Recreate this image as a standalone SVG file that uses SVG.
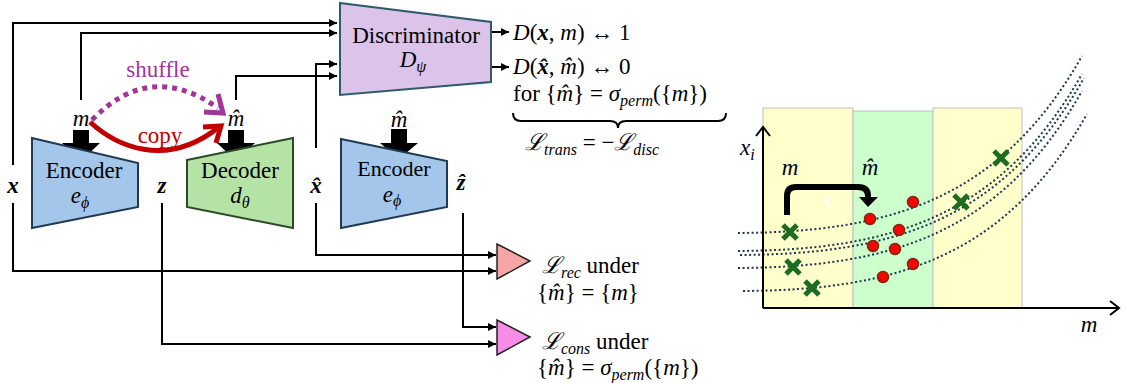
<svg xmlns="http://www.w3.org/2000/svg" xmlns:xlink="http://www.w3.org/1999/xlink" width="1126" height="383" viewBox="0 0 1126 383">
<style>
text{font-family:'Liberation Serif','Times New Roman',Tinos,'DejaVu Serif',serif;font-size:23px;fill:#000}
.i{font-style:italic}
.bi{font-style:italic;font-weight:bold}
.sub{font-size:16px;font-style:italic}
.wire{fill:none;stroke:#000;stroke-width:2}
.dot{fill:none;stroke:#1f3550;stroke-width:2;stroke-dasharray:2 2.5}
.xm{stroke:#1e6b22;stroke-width:5;fill:none}
.rd{fill:#ff0000;stroke:#7a2a10;stroke-width:1.5}
</style>
<defs>
<marker id="ah" viewBox="0 0 10 10" refX="10" refY="5" markerWidth="9" markerHeight="8" markerUnits="userSpaceOnUse" orient="auto"><path d="M0,0 L10,5 L0,10 z" fill="#000"/></marker>
<path id="crv" d="M0,0 C152,-1 262,-33 344,-177"/>
</defs>
<g id="connectors">
<polyline class="wire" points="13,165 13,23 337,23" marker-end="url(#ah)"/>
<polyline class="wire" points="81,100 81,33 337,33" marker-end="url(#ah)"/>
<polyline class="wire" points="316,148 316,64 337,64" marker-end="url(#ah)"/>
<polyline class="wire" points="236,100 236,76 337,76" marker-end="url(#ah)"/>
<polyline class="wire" points="13,203 13,271 496,271" marker-end="url(#ah)"/>
<polyline class="wire" points="316,203 316,255 496,255" marker-end="url(#ah)"/>
<polyline class="wire" points="162,203 162,344 496,344" marker-end="url(#ah)"/>
<polyline class="wire" points="463,213 463,327 496,327" marker-end="url(#ah)"/>
<line class="wire" x1="491" y1="32" x2="509" y2="32" marker-end="url(#ah)"/>
<line class="wire" x1="491" y1="67" x2="509" y2="67" marker-end="url(#ah)"/>
<path d="M92,120 Q150,60 218,108" fill="none" stroke="#a0359a" stroke-width="5" stroke-dasharray="5 5"/>
<polyline points="218,94 223,113 204,112" fill="none" stroke="#a0359a" stroke-width="5"/>
<path d="M90,122 C115,145 165,170 219,127" fill="none" stroke="#c00000" stroke-width="5"/>
<polyline points="203,127 221,126 216,143" fill="none" stroke="#c00000" stroke-width="5"/>
<polygon points="73,130 89,130 89,143 100,143 81,161 62,143 73,143" fill="#000"/>
<polygon points="228,130 244,130 244,143 255,143 236,161 217,143 228,143" fill="#000"/>
<polygon points="391,129 407,129 407,143 418,143 399,159 380,143 391,143" fill="#000"/>
</g>
<g font-family="'Liberation Serif','Times New Roman',serif">
<g id="encoder1">
<polygon points="32,138 138,163 138,207 32,228" fill="#a4c6ea" stroke="#203a50" stroke-width="2"/>
<text x="84" y="178" text-anchor="middle">Encoder</text>
<text x="80" y="203" text-anchor="middle"><tspan class="i">e</tspan><tspan class="sub" dy="5">ϕ</tspan></text>
</g>
<g id="decoder">
<polygon points="187,160 293,138 293,228 187,207" fill="#b4e3a5" stroke="#2b4a25" stroke-width="2"/>
<text x="240" y="178" text-anchor="middle">Decoder</text>
<text x="240" y="203" text-anchor="middle"><tspan class="i">d</tspan><tspan class="sub" dy="5">θ</tspan></text>
</g>
<g id="encoder2">
<polygon points="341,139 447,161 447,207 341,228" fill="#a4c6ea" stroke="#203a50" stroke-width="2"/>
<text x="394" y="176" text-anchor="middle" style="font-size:22px">Encoder</text>
<text x="392" y="202" text-anchor="middle"><tspan class="i">e</tspan><tspan class="sub" dy="4">ϕ</tspan></text>
</g>
<g id="discriminator">
<polygon points="340,3 491,22 491,82 340,95" fill="#dcc3ea" stroke="#2e5a6e" stroke-width="2"/>
<text x="416" y="43" text-anchor="middle">Discriminator</text>
<text x="413" y="67" text-anchor="middle"><tspan class="i">D</tspan><tspan class="sub" dy="5">ψ</tspan></text>
</g>
<g id="rec">
<polygon points="497,244 497,279 530,261" fill="#f6a5a5" stroke="#222" stroke-width="1.5"/>
<text x="542" y="273"><tspan class="i">ℒ</tspan><tspan class="sub" dy="5">rec</tspan><tspan dy="-5"> under</tspan></text>
<text x="537" y="300">{<tspan class="i">m̂</tspan>} = {<tspan class="i">m</tspan>}</text>
</g>
<g id="cons">
<polygon points="497,320 497,355 530,337" fill="#f78de8" stroke="#222" stroke-width="1.5"/>
<text x="542" y="349"><tspan class="i">ℒ</tspan><tspan class="sub" dy="5">cons</tspan><tspan dy="-5"> under</tspan></text>
<text x="537" y="375">{<tspan class="i">m̂</tspan>} = <tspan class="i">σ</tspan><tspan class="sub" dy="5">perm</tspan><tspan dy="-5">({</tspan><tspan class="i">m</tspan>})</text>
</g>
<g id="labels">
<text x="13" y="193" text-anchor="middle" class="bi">x</text>
<text x="162" y="193" text-anchor="middle" class="bi">z</text>
<text x="316" y="193" text-anchor="middle" class="bi">x̂</text>
<text x="461" y="190" text-anchor="middle" class="bi">ẑ</text>
<text x="81" y="126" text-anchor="middle" class="i">m</text>
<text x="236" y="126" text-anchor="middle" class="i">m̂</text>
<text x="399" y="127" text-anchor="middle" class="i">m̂</text>
<text x="158" y="77" text-anchor="middle" style="fill:#a0359a">shuffle</text>
<text x="160" y="143" text-anchor="middle" style="fill:#c00000">copy</text>
</g>
<g id="outputs">
<text x="513" y="40"><tspan class="i">D</tspan>(<tspan class="bi">x</tspan>, <tspan class="i">m</tspan>) ↔ 1</text>
<text x="513" y="74"><tspan class="i">D</tspan>(<tspan class="bi">x̂</tspan>, <tspan class="i">m̂</tspan>)  ↔ 0</text>
<text x="513" y="101">for {<tspan class="i">m̂</tspan>} = <tspan class="i">σ</tspan><tspan class="sub" dy="5">perm</tspan><tspan dy="-5">({</tspan><tspan class="i">m</tspan>})</text>
<path d="M513,113 Q513,121 521,121 L610,121 Q618,121 618,128 Q618,121 626,121 L718,121 Q726,121 726,113" fill="none" stroke="#000" stroke-width="2"/>
<text x="525" y="150"><tspan class="i">ℒ</tspan><tspan class="sub" dy="5">trans</tspan><tspan dy="-5"> = −</tspan><tspan class="i">ℒ</tspan><tspan class="sub" dy="5">disc</tspan></text>
</g>
<g id="plot">
<rect x="763" y="108" width="90" height="200" fill="#ffffcc" stroke="#c0c0c0" stroke-width="1"/>
<rect x="853" y="111" width="80" height="197" fill="#ccffcc" stroke="#c0c0c0" stroke-width="1"/>
<rect x="933" y="108" width="89" height="200" fill="#ffffcc" stroke="#c0c0c0" stroke-width="1"/>
<use xlink:href="#crv" class="dot" transform="translate(738,233)"/>
<use xlink:href="#crv" class="dot" transform="translate(738,251)"/>
<use xlink:href="#crv" class="dot" transform="translate(740,255)"/>
<use xlink:href="#crv" class="dot" transform="translate(738,268)"/>
<use xlink:href="#crv" class="dot" transform="translate(743,291)"/>
<polyline points="763,308 763,127" fill="none" stroke="#000" stroke-width="2"/>
<polyline points="756,136 763,127 770,136" fill="none" stroke="#000" stroke-width="2"/>
<polyline points="763,308 1119,308" fill="none" stroke="#000" stroke-width="2"/>
<polyline points="1110,301 1119,308 1110,315" fill="none" stroke="#000" stroke-width="2"/>
<path d="M787,215 L787,196 Q787,187 796,187 L858,187 Q868,187 868,196 L868,199" fill="none" stroke="#000" stroke-width="6"/>
<polygon points="859,197 878,197 868,207" fill="#000"/>
<text x="827" y="207" text-anchor="middle" class="i" style="fill:#fff">x</text>
<text x="790" y="175" text-anchor="middle" class="i">m</text>
<text x="870" y="175" text-anchor="middle" class="i">m̂</text>
<text x="740" y="155" class="i">x<tspan class="sub" dy="5">i</tspan></text>
<text x="1089" y="332" text-anchor="middle" class="i">m</text>
<path class="xm" d="M783,225 l14,14 m0,-14 l-14,14"/>
<path class="xm" d="M786,260 l14,14 m0,-14 l-14,14"/>
<path class="xm" d="M805,281 l14,14 m0,-14 l-14,14"/>
<path class="xm" d="M954,195 l14,14 m0,-14 l-14,14"/>
<path class="xm" d="M994,151 l14,14 m0,-14 l-14,14"/>
<circle class="rd" cx="870" cy="219" r="5.5"/>
<circle class="rd" cx="913" cy="202" r="5.5"/>
<circle class="rd" cx="899" cy="230" r="5.5"/>
<circle class="rd" cx="873" cy="246" r="5.5"/>
<circle class="rd" cx="895" cy="249" r="5.5"/>
<circle class="rd" cx="913" cy="264" r="5.5"/>
<circle class="rd" cx="883" cy="277" r="5.5"/>
</g>
</g>
</svg>
